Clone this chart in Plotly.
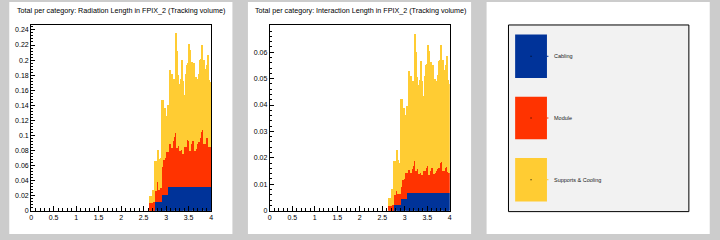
import plotly.graph_objects as go

# ---------------- data ----------------
BIN_W = 0.025
bin_lo = [round(2.6 + BIN_W * i, 4) for i in range(56)]
bin_centers = [round(b + BIN_W / 2, 4) for b in bin_lo]

categories = ["Cabling", "Module", "Supports & Cooling"]
colors = ["#003399", "#ff3300", "#ffcc33"]

# Radiation length: cumulative tops
rl_cabling = [0, 0, 0, 0, 0, 0, 0.011, 0.011, 0.011, 0.011, 0.011, 0.011,
              0.021, 0.021, 0.021, 0.021, 0.021] + [0.032] * 39
rl_red_top = [0, 0.0096, 0.0096, 0.0096, 0.012, 0.012, 0.026, 0.026, 0.038, 0.027, 0.030, 0.030,
              0.058, 0.071, 0.067, 0.070, 0.078, 0.078, 0.091, 0.089, 0.089, 0.083, 0.093, 0.098,
              0.103, 0.083, 0.086, 0.086, 0.079, 0.092, 0.081, 0.075, 0.084, 0.084, 0.094, 0.096,
              0.092, 0.079, 0.088, 0.092, 0.092, 0.079, 0.082, 0.088, 0.091, 0.091, 0.096, 0.105,
              0.107, 0.088, 0.088, 0.096, 0.096, 0.101, 0.085, 0.084]
rl_total = [0, 0.0197, 0.0197, 0.0197, 0.027, 0.027, 0.066, 0.066, 0.080, 0.065, 0.068, 0.070,
            0.1475, 0.1475, 0.136, 0.136, 0.126, 0.140, 0.140, 0.187, 0.181, 0.181, 0.166, 0.175,
            0.236, 0.212, 0.180, 0.155, 0.168, 0.175, 0.200, 0.172, 0.153, 0.181, 0.194, 0.196,
            0.222, 0.214, 0.164, 0.198, 0.196, 0.152, 0.178, 0.164, 0.175, 0.181, 0.200, 0.202,
            0.220, 0.200, 0.179, 0.188, 0.194, 0.207, 0.174, 0.171]

# Interaction length: cumulative tops
il_cabling = [0, 0, 0, 0, 0, 0, 0.0023, 0.0023, 0.0023, 0.0023, 0.0023, 0.0023,
              0.0046, 0.0046, 0.0046, 0.0046, 0.0046] + [0.0067] * 39
il_red_top = [0, 0.0017, 0.0017, 0.0017, 0.0021, 0.0021, 0.0058, 0.0058, 0.0074, 0.0062, 0.0064, 0.0064,
              0.0089, 0.0122, 0.0116, 0.0120, 0.0144, 0.0144, 0.0157, 0.0153, 0.0153, 0.0144, 0.0157, 0.0169,
              0.0188, 0.0151, 0.0157, 0.0157, 0.0138, 0.0163, 0.0141, 0.0136, 0.0151, 0.0151, 0.0163, 0.0169,
              0.0178, 0.0136, 0.0151, 0.0163, 0.0163, 0.0138, 0.0144, 0.0151, 0.0157, 0.0163, 0.0163, 0.0181,
              0.0185, 0.0151, 0.0151, 0.0160, 0.0165, 0.0169, 0.0148, 0.0144]
il_total = [0, 0.0049, 0.0049, 0.0049, 0.0083, 0.0083, 0.0188, 0.0188, 0.0230, 0.0190, 0.0180, 0.0180,
            0.0422, 0.0422, 0.0389, 0.0389, 0.0363, 0.0396, 0.0396, 0.0528, 0.0510, 0.0510, 0.0470, 0.0490,
            0.0669, 0.0600, 0.0508, 0.0437, 0.0474, 0.0493, 0.0568, 0.0490, 0.0434, 0.0510, 0.0553, 0.0557,
            0.0628, 0.0606, 0.0464, 0.0562, 0.0553, 0.0431, 0.0500, 0.0466, 0.0490, 0.0513, 0.0568, 0.0572,
            0.0628, 0.0570, 0.0508, 0.0533, 0.0552, 0.0587, 0.0494, 0.0480]

titles = ["Total per category: Radiation Length in FPIX_2 (Tracking volume)",
          "Total per category: Interaction Length in FPIX_2 (Tracking volume)"]

x_tickvals = [0, 0.5, 1, 1.5, 2, 2.5, 3, 3.5, 4]
x_ticktext = ["0", "0.5", "1", "1.5", "2", "2.5", "3", "3.5", "4"]
rl_tickvals = [0, 0.02, 0.04, 0.06, 0.08, 0.1, 0.12, 0.14, 0.16, 0.18, 0.2, 0.22, 0.24]
rl_ticktext = ["0", "0.02", "0.04", "0.06", "0.08", "0.1", "0.12", "0.14", "0.16", "0.18", "0.2", "0.22", "0.24"]
il_tickvals = [0, 0.01, 0.02, 0.03, 0.04, 0.05, 0.06]
il_ticktext = ["0", "0.01", "0.02", "0.03", "0.04", "0.05", "0.06"]


def split(cab, red_top, total):
    mod = [round(max(r - c, 0), 5) for r, c in zip(red_top, cab)]
    sup = [round(max(t - r, 0), 5) for t, r in zip(total, red_top)]
    return [cab, mod, sup]


rl_layers = split(rl_cabling, rl_red_top, rl_total)
il_layers = split(il_cabling, il_red_top, il_total)

# ---------------- figure ----------------
W, H = 720, 240
FONT = "Liberation Sans, Arial, Helvetica, sans-serif"

fig = go.Figure()

for k, layers in enumerate([rl_layers, il_layers]):
    ax = "" if k == 0 else "2"
    for name, col, vals in zip(categories, colors, layers):
        fig.add_trace(go.Bar(
            x=bin_centers, y=vals, width=BIN_W, name=name,
            marker=dict(color=col, line=dict(width=0)),
            xaxis="x" + ax, yaxis="y" + ax, showlegend=False,
        ))


def px(x):
    return x / W


def py(y):
    return 1 - y / H


shapes = []
# pads
for x0, x1 in [(7.3, 231.7), (247.3, 471.7), (487.3, 711.7)]:
    shapes.append(dict(type="rect", xref="paper", yref="paper",
                       x0=px(x0), x1=px(x1), y0=py(237), y1=py(2),
                       fillcolor="white", line=dict(width=0), layer="below"))

frame_l = [29.3, 269.3]
frame_r = 210.3
frame_top, frame_bot = 25.3, 213.3

common_axis = dict(showgrid=False, zeroline=False, showline=True, mirror=True,
                   linecolor="black", linewidth=1, ticks="inside", tickcolor="black",
                   tickwidth=1, tickfont=dict(family=FONT, size=7, color="black"))

for k in range(2):
    ax = "" if k == 0 else "2"
    xd = [px(frame_l[k]), px(frame_l[k] + (frame_r - 29.3))]
    yd = [py(frame_bot), py(frame_top)]
    xa = dict(common_axis, domain=xd, range=[0, 4], anchor="y" + ax,
              tickvals=x_tickvals, ticktext=x_ticktext, ticklen=5,
              minor=dict(dtick=0.1, tick0=0, ticks="inside", ticklen=2.7,
                         tickcolor="black", tickwidth=1))
    if k == 0:
        ya = dict(common_axis, domain=yd, range=[0, 0.2466], anchor="x",
                  tickvals=rl_tickvals, ticktext=rl_ticktext, ticklen=4,
                  minor=dict(dtick=0.004, tick0=0, ticks="inside", ticklen=2,
                             tickcolor="black", tickwidth=1))
        fig.update_layout(xaxis=xa, yaxis=ya)
    else:
        ya = dict(common_axis, domain=yd, range=[0, 0.0703], anchor="x2",
                  tickvals=il_tickvals, ticktext=il_ticktext, ticklen=4,
                  minor=dict(dtick=0.002, tick0=0, ticks="inside", ticklen=2,
                             tickcolor="black", tickwidth=1))
        fig.update_layout(xaxis2=xa, yaxis2=ya)

annotations = []
for k, t in enumerate(titles):
    annotations.append(dict(text=t, xref="paper", yref="paper",
                            x=px(120 + 240 * k), y=py(10.6), xanchor="center", yanchor="middle",
                            showarrow=False, font=dict(family=FONT, size=7.2, color="black")))

# legend pad
shapes.append(dict(type="rect", xref="paper", yref="paper",
                   x0=px(509.3), x1=px(690.7), y0=py(214.3), y1=py(25.3),
                   fillcolor="#f2f2f2", line=dict(color="black", width=1)))
box_rows = [(35, 79), (98, 141), (160, 204)]
for (y0, y1), name, col in zip(box_rows, categories, colors):
    shapes.append(dict(type="rect", xref="paper", yref="paper",
                       x0=px(516), x1=px(548), y0=py(y1), y1=py(y0),
                       fillcolor=col, line=dict(width=0)))
    yc = (y0 + y1) / 2
    shapes.append(dict(type="rect", xref="paper", yref="paper",
                       x0=px(531.5), x1=px(532.5), y0=py(yc + 0.5), y1=py(yc - 0.5),
                       fillcolor="black", line=dict(width=0)))
    shapes.append(dict(type="line", xref="paper", yref="paper",
                       x0=px(548), x1=px(549.5), y0=py(yc), y1=py(yc),
                       line=dict(color=col, width=1)))
    annotations.append(dict(text=name, xref="paper", yref="paper",
                            x=px(553.5), y=py(yc), xanchor="left", yanchor="middle",
                            showarrow=False, font=dict(family=FONT, size=5.5, color="#222222")))

fig.update_layout(
    width=W, height=H, margin=dict(l=0, r=0, t=0, b=0),
    paper_bgcolor="#cccccc", plot_bgcolor="white",
    barmode="stack", bargap=0, showlegend=False,
    shapes=shapes, annotations=annotations,
    font=dict(family=FONT, color="black"),
)

fig.write_html("out.html", config={"displayModeBar": False})
